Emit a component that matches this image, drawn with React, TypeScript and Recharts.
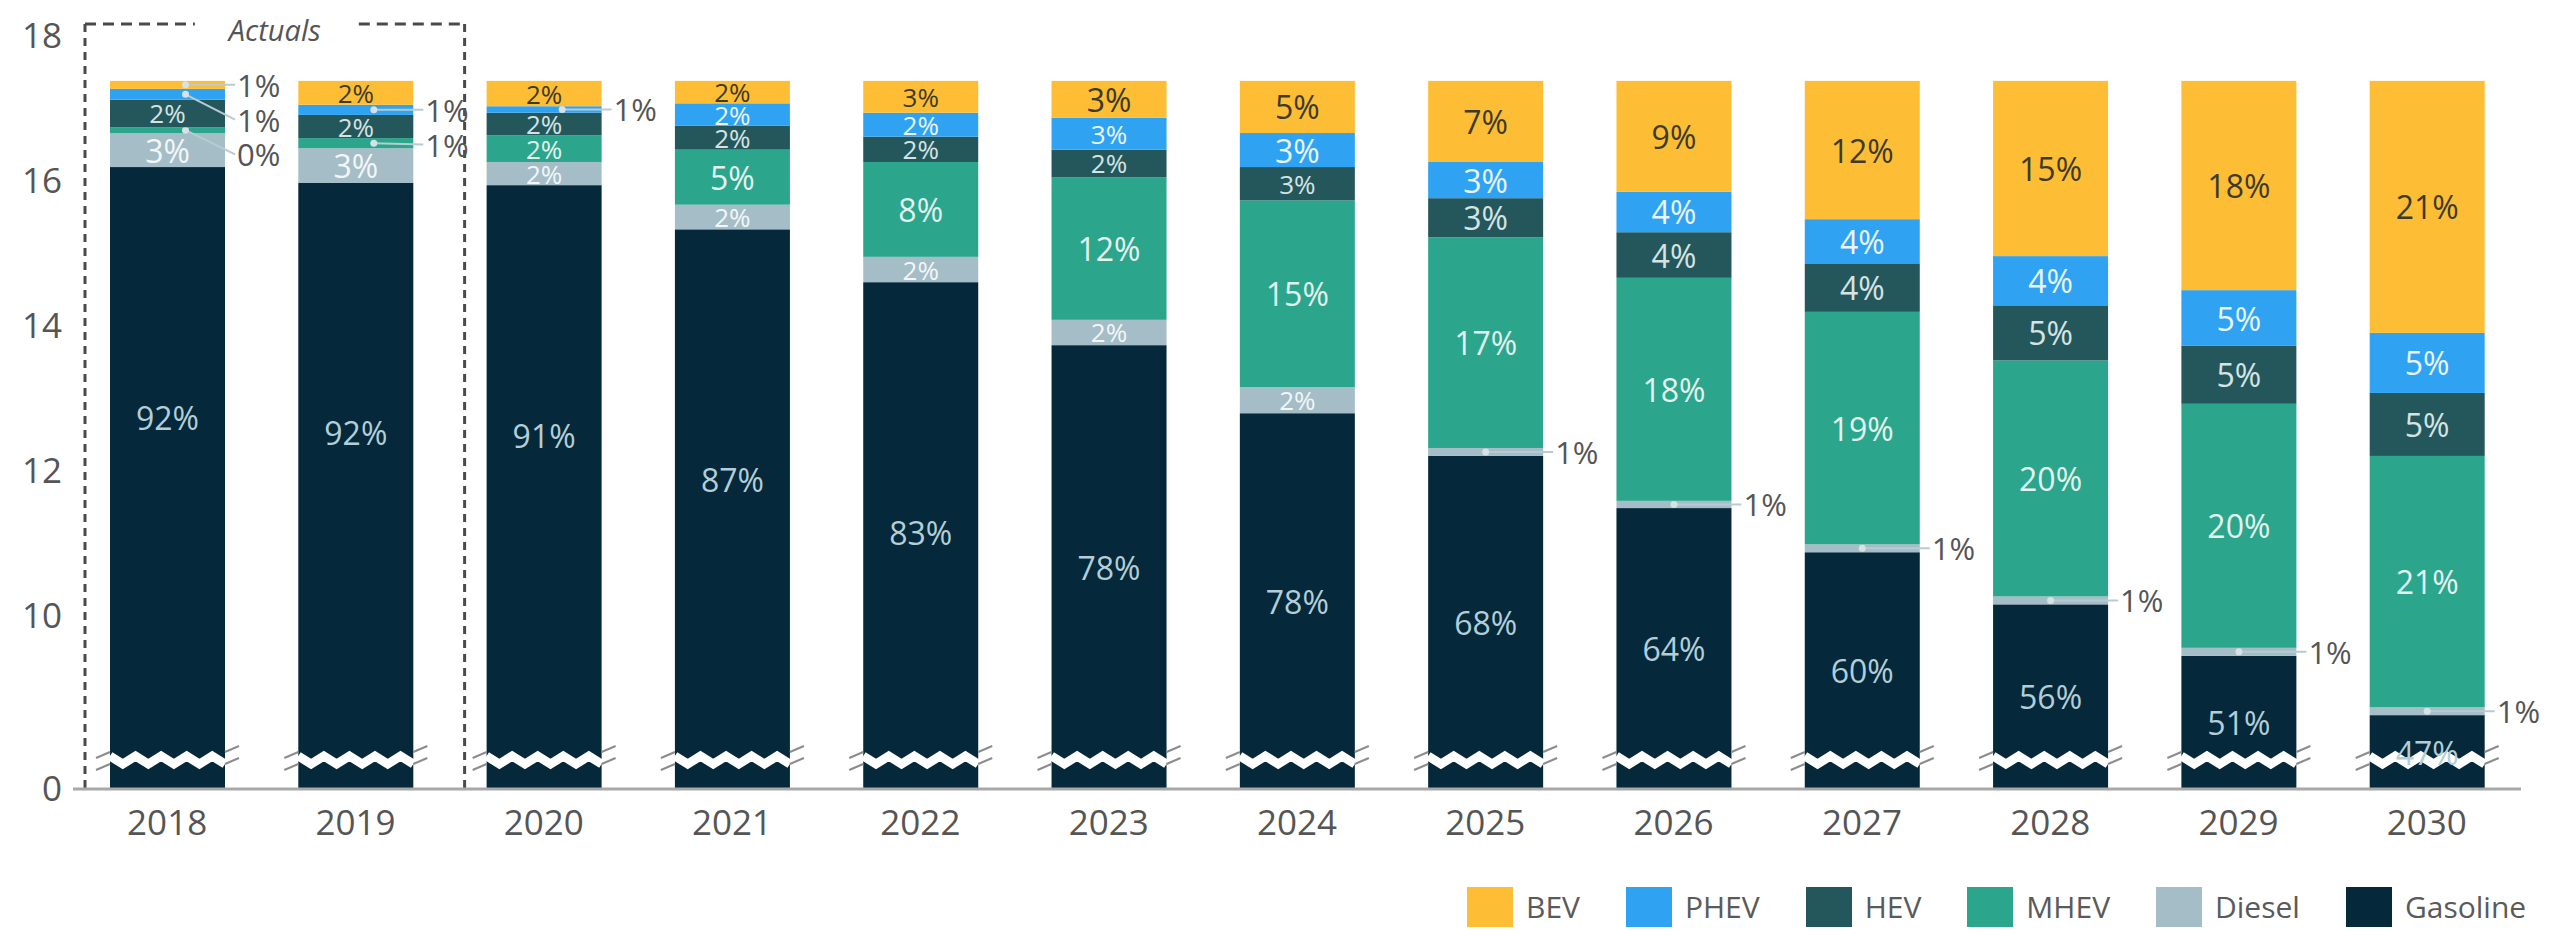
import React from 'react';
import { BarChart, Bar, XAxis, YAxis, Legend, ReferenceArea } from 'recharts';

// ---- data (million vehicles) ----
const years = ['2018', '2019', '2020', '2021', '2022', '2023', '2024', '2025', '2026', '2027', '2028', '2029', '2030'];
const gasoline = [16.19, 15.97, 15.94, 15.33, 14.6, 13.73, 12.79, 12.2, 11.48, 10.87, 10.15, 9.44, 8.62];
const diesel = [0.47, 0.48, 0.32, 0.34, 0.35, 0.35, 0.36, 0.11, 0.1, 0.11, 0.11, 0.11, 0.11];
const mhev = [0.08, 0.14, 0.37, 0.76, 1.31, 1.97, 2.58, 2.91, 3.08, 3.21, 3.26, 3.37, 3.47];
const hev = [0.38, 0.32, 0.31, 0.33, 0.35, 0.38, 0.46, 0.54, 0.63, 0.67, 0.76, 0.8, 0.87];
const phev = [0.15, 0.14, 0.09, 0.31, 0.33, 0.44, 0.47, 0.5, 0.56, 0.61, 0.68, 0.77, 0.83];
const bev = [0.11, 0.33, 0.35, 0.31, 0.44, 0.51, 0.72, 1.12, 1.53, 1.91, 2.42, 2.89, 3.48];

// ---- printed share labels (%) ----
const gasolineShare = [92, 92, 91, 87, 83, 78, 78, 68, 64, 60, 56, 51, 47];
const dieselShare = [3, 3, 2, 2, 2, 2, 2, 1, 1, 1, 1, 1, 1];
const mhevShare = [0, 1, 2, 5, 8, 12, 15, 17, 18, 19, 20, 20, 21];
const hevShare = [2, 2, 2, 2, 2, 2, 3, 3, 4, 4, 5, 5, 5];
const phevShare = [1, 1, 1, 2, 2, 3, 3, 3, 4, 4, 4, 5, 5];
const bevShare = [1, 2, 2, 2, 3, 3, 5, 7, 9, 12, 15, 18, 21];

// ---- axis ----
const AXIS_BASE = 7.6; // shown as "0" (broken axis)
const BREAK_AT = 8.0;
const yTicks = [AXIS_BASE, 10, 12, 14, 16, 18];
const Y_MAX = 18;

type Series = {
  key: string;
  name: string;
  values: number[];
  shares: number[];
  color: string;
  text: string;
};

// bottom -> top
const SERIES: Series[] = [
  { key: 'gasoline', name: 'Gasoline', values: gasoline, shares: gasolineShare, color: '#05293A', text: '#b3ced8' },
  { key: 'diesel', name: 'Diesel', values: diesel, shares: dieselShare, color: '#A4BDC7', text: '#f2f6f8' },
  { key: 'mhev', name: 'MHEV', values: mhev, shares: mhevShare, color: '#2BA58C', text: '#e3f4ee' },
  { key: 'hev', name: 'HEV', values: hev, shares: hevShare, color: '#24575C', text: '#d5e3e3' },
  { key: 'phev', name: 'PHEV', values: phev, shares: phevShare, color: '#2FA3F2', text: '#eaf5fd' },
  { key: 'bev', name: 'BEV', values: bev, shares: bevShare, color: '#FDBE35', text: '#3d3a28' },
];
const LEGEND_ORDER = ['bev', 'phev', 'hev', 'mhev', 'diesel', 'gasoline'];

const data = years.map((year, i) => {
  const row: Record<string, any> = { year };
  SERIES.forEach((s) => (row[s.key] = s.values[i]));
  return row;
});

const FONT = "'Open Sans', 'Noto Sans', sans-serif";
const CALLOUT_MIN = 0.2;
const CALLOUT_GAP = 0.48;

// segment top/bottom in value units
function segBounds(si: number, i: number) {
  let bottom = 0;
  for (let k = 0; k < si; k++) bottom += SERIES[k].values[i];
  return { bottom, top: bottom + SERIES[si].values[i] };
}

// text positions (value units) for thin segments labelled outside the bar
function calloutPositions(i: number): Record<string, number> {
  const res: Record<string, number> = {};
  let prev = Infinity;
  for (let si = SERIES.length - 1; si >= 1; si--) {
    const v = SERIES[si].values[i];
    if (v < CALLOUT_MIN) {
      const { bottom, top } = segBounds(si, i);
      const c = (bottom + top) / 2;
      const t = Math.min(c, prev - CALLOUT_GAP);
      res[SERIES[si].key] = t;
      prev = t;
    }
  }
  return res;
}

const makeShape = (si: number) => (props: any) => {
  const s = SERIES[si];
  const { x, width, payload } = props;
  const i = years.indexOf(payload.year);
  const value = s.values[i];
  const h = Math.abs(props.height);
  const y = props.height >= 0 ? props.y : props.y + props.height;
  const label = `${s.shares[i]}%`;

  if (si === 0) {
    // the bar is truncated at the axis base by the library
    const visible = value - AXIS_BASE;
    const ppu = h / visible;
    const bottomPx = y + h;
    const breakPx = y + (value - BREAK_AT) * ppu;
    const pts: string[] = [];
    const steps = 9;
    for (let k = 0; k <= steps; k++) {
      const px = x + (width * k) / steps;
      const py = breakPx + (k % 2 === 0 ? -4 : 4);
      pts.push(`${px},${py}`);
    }
    const mid = (y + bottomPx) / 2;
    const ly = Math.min(mid, y + 250);
    return (
      <g>
        <rect x={x} y={y} width={width} height={h} fill={s.color} />
        <polyline points={pts.join(' ')} fill="none" stroke="#ffffff" strokeWidth={9} />
        <line x1={x - 14} y1={breakPx - 2} x2={x} y2={breakPx - 8} stroke="#8c8c8c" strokeWidth={2} />
        <line x1={x - 14} y1={breakPx + 10} x2={x} y2={breakPx + 4} stroke="#8c8c8c" strokeWidth={2} />
        <line x1={x + width} y1={breakPx - 8} x2={x + width + 14} y2={breakPx - 14} stroke="#8c8c8c" strokeWidth={2} />
        <line x1={x + width} y1={breakPx + 4} x2={x + width + 14} y2={breakPx - 2} stroke="#8c8c8c" strokeWidth={2} />
        <text x={x + width / 2} y={ly} textAnchor="middle" dominantBaseline="central" fill={s.text} fontSize={32} fontFamily={FONT}>
          {label}
        </text>
      </g>
    );
  }

  const ppu = h / value;
  const { top } = segBounds(si, i);
  const vToPx = (v: number) => y + (top - v) * ppu;
  const cy = y + h / 2;
  if (value < CALLOUT_MIN) {
    const tv = calloutPositions(i)[s.key];
    const ty = vToPx(tv);
    const right = x + width;
    const cx = x + width / 2 + (si === 1 ? 0 : 18);
    return (
      <g>
        <rect x={x} y={y} width={width} height={h} fill={s.color} />
        <line x1={cx} y1={cy} x2={right + 10} y2={ty} stroke="#b9cbd2" strokeWidth={2} />
        <circle cx={cx} cy={cy} r={3.5} fill="#d6e2e6" />
        <text x={right + 12} y={ty} textAnchor="start" dominantBaseline="central" fill="#555555" fontSize={31} fontFamily={FONT}>
          {label}
        </text>
      </g>
    );
  }
  const fs = h < 34 ? 26 : 32;
  return (
    <g>
      <rect x={x} y={y} width={width} height={h} fill={s.color} />
      <text x={x + width / 2} y={cy} textAnchor="middle" dominantBaseline="central" fill={s.text} fontSize={fs} fontFamily={FONT}>
        {label}
      </text>
    </g>
  );
};

const ActualsBox = (props: any) => {
  const { x, y, width, height } = props;
  const L = x + 12;
  const R = x + width + 15;
  const T = y - 12;
  const B = y + height;
  const cx = (L + R) / 2;
  const stroke = '#4a4a4a';
  return (
    <g>
      <line x1={L} y1={T} x2={L} y2={B} stroke={stroke} strokeWidth={3} strokeDasharray="8 6" />
      <line x1={R} y1={T} x2={R} y2={B} stroke={stroke} strokeWidth={3} strokeDasharray="8 6" />
      <line x1={L} y1={T} x2={cx - 80} y2={T} stroke={stroke} strokeWidth={3} strokeDasharray="11 7" />
      <line x1={cx + 84} y1={T} x2={R} y2={T} stroke={stroke} strokeWidth={3} strokeDasharray="11 7" />
      <text x={cx} y={T + 5} textAnchor="middle" dominantBaseline="central" fontStyle="italic" fontSize={29} fill="#555555" fontFamily={FONT}>
        Actuals
      </text>
    </g>
  );
};

const LegendContent = () => (
  <div style={{ display: 'flex', alignItems: 'center', fontFamily: FONT, fontSize: 30, color: '#5a5a5a', whiteSpace: 'nowrap' }}>
    {LEGEND_ORDER.map((k) => {
      const s = SERIES.find((q) => q.key === k)!;
      return (
        <div key={k} style={{ display: 'flex', alignItems: 'center', marginRight: 46 }}>
          <span style={{ display: 'inline-block', width: 46, height: 40, background: s.color, marginRight: 13 }} />
          <span>{s.name}</span>
        </div>
      );
    })}
  </div>
);

export default function App() {
  return (
    <div style={{ fontFamily: FONT }}>
      <BarChart width={2535} height={919} data={data} margin={{ top: 28, right: 22, bottom: 78, left: 5 }} barSize={115}>
        <XAxis
          dataKey="year"
          interval={0}
          tickLine={false}
          axisLine={{ stroke: '#a8a8a8', strokeWidth: 3 }}
          tickMargin={15}
          height={60}
          tick={{ fontSize: 35, fill: '#555555', fontFamily: FONT }}
        />
        <YAxis
          type="number"
          domain={[AXIS_BASE, Y_MAX]}
          ticks={yTicks}
          allowDataOverflow
          axisLine={false}
          tickLine={false}
          tickMargin={5}
          width={60}
          tick={{ fontSize: 35, fill: '#555555', fontFamily: FONT }}
          tickFormatter={(v: number) => (v === AXIS_BASE ? '0' : String(v))}
        />
        <ReferenceArea x1="2018" x2="2019" y1={AXIS_BASE} y2={Y_MAX} ifOverflow="visible" shape={ActualsBox} />
        {SERIES.map((s, si) => (
          <Bar key={s.key} dataKey={s.key} name={s.name} stackId="a" fill={s.color} isAnimationActive={false} shape={makeShape(si)} />
        ))}
        <Legend
          layout="horizontal"
          verticalAlign="middle"
          align="center"
          content={LegendContent}
          wrapperStyle={{ top: 878, left: 1459, width: 1100, height: 44 }}
        />
      </BarChart>
    </div>
  );
}
